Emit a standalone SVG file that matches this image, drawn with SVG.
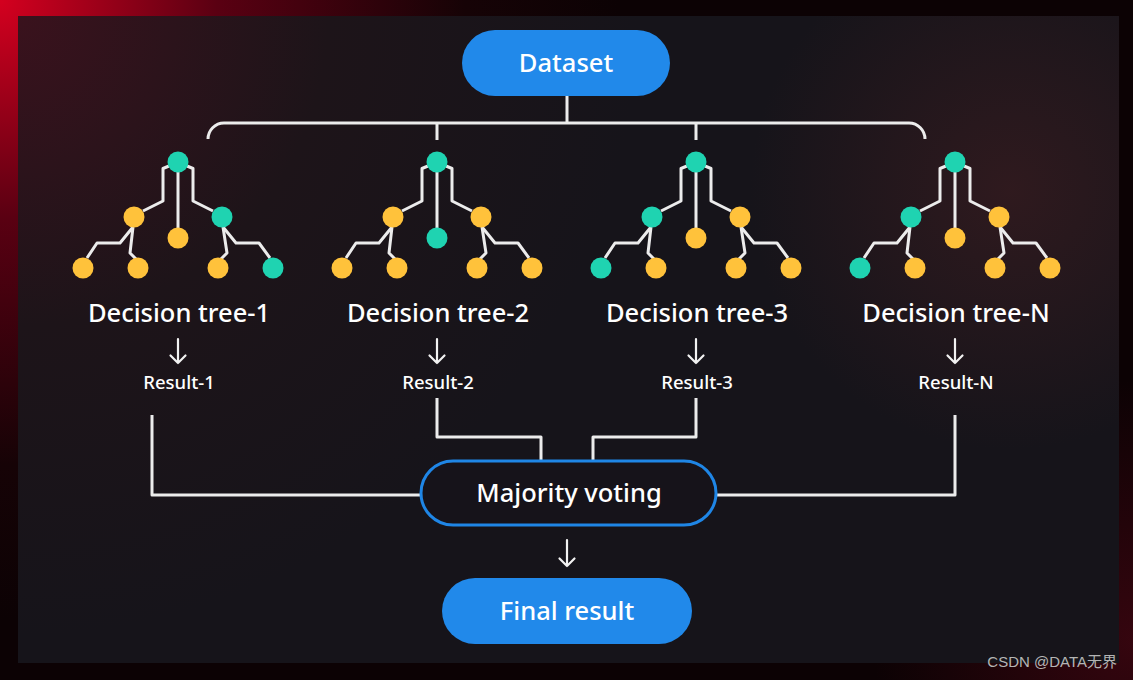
<svg xmlns="http://www.w3.org/2000/svg" width="1133" height="680" viewBox="0 0 1133 680">
<defs>
<radialGradient id="outer" cx="0" cy="0" r="620" gradientUnits="userSpaceOnUse">
<stop offset="0" stop-color="#d4001f"/>
<stop offset="0.35" stop-color="#5a0012"/>
<stop offset="0.75" stop-color="#160306"/>
<stop offset="1" stop-color="#0c0204"/>
</radialGradient>
<radialGradient id="outer2" cx="1133" cy="640" r="260" gradientUnits="userSpaceOnUse">
<stop offset="0" stop-color="#3a0610" stop-opacity="0.9"/>
<stop offset="1" stop-color="#3a0610" stop-opacity="0"/>
</radialGradient>
<radialGradient id="panel" cx="18" cy="16" r="620" gradientUnits="userSpaceOnUse">
<stop offset="0" stop-color="#3a121d"/>
<stop offset="0.5" stop-color="#1d1419"/>
<stop offset="1" stop-color="#16141a"/>
</radialGradient>
<radialGradient id="glow" cx="1010" cy="190" r="260" gradientUnits="userSpaceOnUse">
<stop offset="0" stop-color="#3a1c20" stop-opacity="0.7"/>
<stop offset="1" stop-color="#3a1c20" stop-opacity="0"/>
</radialGradient>
<style>
.wire{fill:none;stroke:#ececec;stroke-width:3;stroke-linejoin:round;stroke-linecap:butt}
.arr{fill:none;stroke:#f2f2f2;stroke-width:2.2;stroke-linecap:round;stroke-linejoin:round}
.t{fill:#1fd3b1}
.y{fill:#ffc23b}
.pill{fill:#2189ea}
.lbl{font-family:"Noto Sans","Open Sans",sans-serif;font-weight:500;fill:#ffffff;text-anchor:middle}
.big{font-size:25.5px}
.res{font-size:18.5px}
.btn{font-family:"Noto Sans","Open Sans",sans-serif;font-weight:500;fill:#ffffff;text-anchor:middle;font-size:25.5px}
</style>
<g id="treeshape">
<path class="wire" d="M169,166 L163,168.5 L163,201 L143,211"/>
<path class="wire" d="M187,166 L193,168.5 L193,201 L213,211"/>
<path class="wire" d="M178,172 V228"/>
<path class="wire" d="M133,227 L120,243 L97,243 L87,258"/>
<path class="wire" d="M133,227 L130,253 L136,259"/>
<path class="wire" d="M223,227 L236,243 L259,243 L270,258"/>
<path class="wire" d="M223,227 L227,253 L221,259"/>
</g>
</defs>
<rect x="0" y="0" width="1133" height="680" fill="url(#outer)"/>
<rect x="0" y="0" width="1133" height="680" fill="url(#outer2)"/>
<rect x="18" y="16" width="1101" height="647" fill="url(#panel)"/>
<rect x="18" y="16" width="1101" height="647" fill="url(#glow)"/>

<g id="connectors">
<path class="wire" d="M567,96 V123"/>
<path class="wire" d="M208,139 A16,16 0 0 1 224,123 H909 A16,16 0 0 1 925,139"/>
<path class="wire" d="M437,123 V140"/>
<path class="wire" d="M696,123 V140"/>
<path class="wire" d="M152,415 V495 H421"/>
<path class="wire" d="M437,398 V437 H541 V460"/>
<path class="wire" d="M593,460 V437 H696 V398"/>
<path class="wire" d="M955,415 V495 H717"/>
<path class="arr" d="M178,339 V363 M170.5,355.5 L178,363 L185.5,355.5"/>
<path class="arr" d="M437,339 V363 M429.5,355.5 L437,363 L444.5,355.5"/>
<path class="arr" d="M696,339 V363 M688.5,355.5 L696,363 L703.5,355.5"/>
<path class="arr" d="M955,339 V363 M947.5,355.5 L955,363 L962.5,355.5"/>
<path class="arr" d="M567,540 V566 M559.5,558.5 L567,566 L574.5,558.5"/>
</g>

<g id="dataset">
<rect class="pill" x="462" y="30" width="208" height="66" rx="33"/>
<text class="btn" x="566" y="72">Dataset</text>
</g>

<g id="tree1">
<use href="#treeshape"/>
<circle class="t" cx="178" cy="162" r="10.5"/>
<circle class="y" cx="134" cy="217" r="10.5"/>
<circle class="y" cx="178" cy="238" r="10.5"/>
<circle class="t" cx="222" cy="217" r="10.5"/>
<circle class="y" cx="83" cy="268" r="10.5"/>
<circle class="y" cx="138" cy="268" r="10.5"/>
<circle class="y" cx="218" cy="268" r="10.5"/>
<circle class="t" cx="273" cy="268" r="10.5"/>
<text class="lbl big" x="179" y="322">Decision tree-1</text>
<text class="lbl res" x="179" y="389">Result-1</text>
</g>

<g id="tree2" transform="translate(259,0)">
<use href="#treeshape"/>
<circle class="t" cx="178" cy="162" r="10.5"/>
<circle class="y" cx="134" cy="217" r="10.5"/>
<circle class="t" cx="178" cy="238" r="10.5"/>
<circle class="y" cx="222" cy="217" r="10.5"/>
<circle class="y" cx="83" cy="268" r="10.5"/>
<circle class="y" cx="138" cy="268" r="10.5"/>
<circle class="y" cx="218" cy="268" r="10.5"/>
<circle class="y" cx="273" cy="268" r="10.5"/>
<text class="lbl big" x="179" y="322">Decision tree-2</text>
<text class="lbl res" x="179" y="389">Result-2</text>
</g>

<g id="tree3" transform="translate(518,0)">
<use href="#treeshape"/>
<circle class="t" cx="178" cy="162" r="10.5"/>
<circle class="t" cx="134" cy="217" r="10.5"/>
<circle class="y" cx="178" cy="238" r="10.5"/>
<circle class="y" cx="222" cy="217" r="10.5"/>
<circle class="t" cx="83" cy="268" r="10.5"/>
<circle class="y" cx="138" cy="268" r="10.5"/>
<circle class="y" cx="218" cy="268" r="10.5"/>
<circle class="y" cx="273" cy="268" r="10.5"/>
<text class="lbl big" x="179" y="322">Decision tree-3</text>
<text class="lbl res" x="179" y="389">Result-3</text>
</g>

<g id="treeN" transform="translate(777,0)">
<use href="#treeshape"/>
<circle class="t" cx="178" cy="162" r="10.5"/>
<circle class="t" cx="134" cy="217" r="10.5"/>
<circle class="y" cx="178" cy="238" r="10.5"/>
<circle class="y" cx="222" cy="217" r="10.5"/>
<circle class="t" cx="83" cy="268" r="10.5"/>
<circle class="y" cx="138" cy="268" r="10.5"/>
<circle class="y" cx="218" cy="268" r="10.5"/>
<circle class="y" cx="273" cy="268" r="10.5"/>
<text class="lbl big" x="179" y="322">Decision tree-N</text>
<text class="lbl res" x="179" y="389">Result-N</text>
</g>

<g id="majority">
<rect x="421" y="461" width="295" height="64" rx="32" fill="#16131a" stroke="#1f86e6" stroke-width="3"/>
<text class="lbl big" x="569" y="502">Majority voting</text>
</g>

<g id="final">
<rect class="pill" x="442" y="578" width="250" height="66" rx="33"/>
<text class="btn" x="567" y="620">Final result</text>
</g>

<text x="1117" y="667" font-family="'Liberation Sans','Noto Sans CJK SC',sans-serif" font-size="15" fill="#b4b4b4" text-anchor="end">CSDN @DATA无界</text>
</svg>
